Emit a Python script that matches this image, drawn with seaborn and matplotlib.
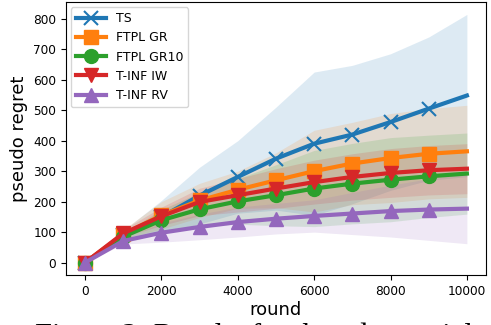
import numpy as np
import pandas as pd
import matplotlib
matplotlib.use("Agg")
import matplotlib.pyplot as plt
import seaborn as sns

rounds = [0, 1000, 2000, 3000, 4000, 5000, 6000, 7000, 8000, 9000, 10000]
labels = ["TS", "FTPL GR", "FTPL GR10", "T-INF IW", "T-INF RV"]
ts_mean = [0, 90, 150, 220, 281, 341, 390, 420, 461, 505, 548]
ts_std = [0, 15, 54, 93, 119, 169, 235, 227, 224, 235, 266]
gr_mean = [0, 93, 155, 204, 239, 270, 300, 325, 343, 357, 365]
gr_std = [0, 15, 45, 56, 61, 90, 134, 135, 146, 148, 151]
gr10_mean = [0, 85, 139, 175, 201, 221, 243, 259, 272, 283, 292]
gr10_std = [0, 12, 35, 55, 75, 100, 125, 132, 138, 135, 133]
iw_mean = [0, 96, 152, 199, 221, 243, 264, 281, 294, 303, 308]
iw_std = [0, 12, 30, 45, 55, 65, 72, 76, 80, 81, 82]
rv_mean = [0, 71, 98, 117, 133, 144, 153, 161, 169, 174, 177]
rv_std = [0, 10, 31, 42, 49, 50, 53, 69, 85, 101, 115]
caption = "Figure 2: Results for the adversarial setting"

means = [ts_mean, gr_mean, gr10_mean, iw_mean, rv_mean]
stds = [ts_std, gr_std, gr10_std, iw_std, rv_std]
markers = ["x", "s", "o", "v", "^"]
colors = ["#1f77b4", "#ff7f0e", "#2ca02c", "#d62728", "#9467bd"]

fig = plt.figure(figsize=(4.91, 3.25), dpi=100)
ax = fig.add_axes([0.1344, 0.1538, 0.8554, 0.84])

for lab, m, s, mk, c in zip(labels, means, stds, markers, colors):
    df = pd.DataFrame({"round": rounds, "regret": m})
    sns.lineplot(data=df, x="round", y="regret", ax=ax, color=c, lw=3,
                 marker=mk, markersize=10, markevery=slice(0, 10),
                 markeredgewidth=1.5 if mk == "x" else 1.0,
                 markeredgecolor=c, label=lab)
    lo = np.array(m) - np.array(s)
    hi = np.array(m) + np.array(s)
    ax.fill_between(rounds, lo, hi, color=c, alpha=0.15, lw=0)

ax.set_xlabel("round", fontsize=13, labelpad=2)
ax.set_ylabel("pseudo regret", fontsize=13, labelpad=4)
ax.tick_params(labelsize=8.7)
ax.set_xticks([0, 2000, 4000, 6000, 8000, 10000])
ax.set_yticks([0, 100, 200, 300, 400, 500, 600, 700, 800])
ax.legend(loc="upper left", fontsize=9, handlelength=2.4, borderaxespad=0.4)

fig.text(0.0713, 0.0068, caption, family="Liberation Serif", fontsize=22, va="top", ha="left")
fig.savefig("out.png", dpi=100)
